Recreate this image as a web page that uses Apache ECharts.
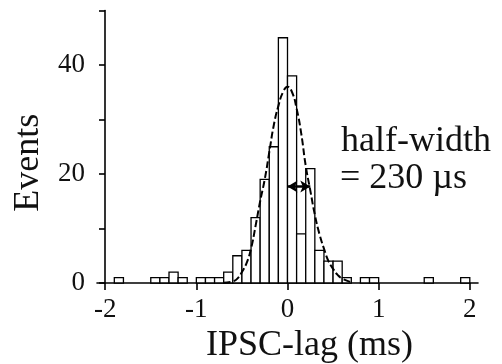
<!DOCTYPE html>
<html>
<head>
<meta charset="utf-8">
<script src="https://cdn.jsdelivr.net/npm/echarts@6/dist/echarts.min.js"></script>
<style>html,body{margin:0;padding:0;background:#fff}#c{width:502px;height:364px}</style>
</head>
<body>
<div id="c"></div>
<script>
// Histogram bins (ms): start edge, end edge, counts
const binStart = [-1.9, -1.5, -1.4, -1.3, -1.2, -1.0, -0.9, -0.8, -0.7, -0.6, -0.5, -0.4, -0.3, -0.2, -0.1, 0.0, 0.1, 0.2, 0.3, 0.4, 0.5, 0.6, 0.8, 0.9, 1.5, 1.9];
const binEnd   = [-1.8, -1.4, -1.3, -1.2, -1.1, -0.9, -0.8, -0.7, -0.6, -0.5, -0.4, -0.3, -0.2, -0.1, 0.0, 0.1, 0.2, 0.3, 0.4, 0.5, 0.6, 0.7, 0.9, 1.0, 1.6, 2.0];
const counts   = [1, 1, 1, 2, 1, 1, 1, 1, 2, 5, 6, 12, 19, 25, 45, 38, 9, 21, 6, 4, 4, 1, 1, 1, 1, 1];

// Fitted curve
const fitX = [-0.7, -0.6, -0.55, -0.5, -0.45, -0.4, -0.35, -0.3, -0.25, -0.2, -0.15, -0.1, -0.05, 0.0, 0.05, 0.1, 0.15, 0.2, 0.25, 0.3, 0.35, 0.4, 0.45, 0.5, 0.55, 0.6, 0.7];
const fitY = [0.05, 0.3, 0.8, 2.0, 3.6, 6.3, 10.5, 15, 19, 24, 29, 32.5, 35, 36, 35, 32, 27.5, 21.5, 17, 12.5, 9, 6.3, 4, 2.6, 1.5, 0.8, 0.15];

// Half-width arrow
const arrowY = 17.7;
const arrowFrom = 0.0;
const arrowTo = 0.25;

// Axis ticks / labels
const xTicks = [-2, -1, 0, 1, 2];
const yTicks = [0, 10, 20, 30, 40, 50];
const yLabels = [0, 20, 40];

const xName = 'IPSC-lag (ms)';
const yName = 'Events';
const noteLine1 = 'half-width';
const noteLine2 = '= 230 µs';

const FONT = "'Liberation Serif', 'DejaVu Serif', serif";

const histData = binStart.map((s, i) => [s, binEnd[i], counts[i]]);
const fitData = fitX.map((x, i) => [x, fitY[i]]);

const chart = echarts.init(document.getElementById('c'), null, {renderer: 'canvas'});
chart.setOption({
  animation: false,
  backgroundColor: '#fff',
  textStyle: {fontFamily: FONT},
  grid: {left: 97, right: 24, top: 10.5, bottom: 81, containLabel: false, outerBoundsMode: 'none'},
  xAxis: {
    type: 'value', min: -2.09, max: 2.09,
    name: xName, nameLocation: 'middle', nameGap: 41,
    nameTextStyle: {fontFamily: FONT, fontSize: 36, color: '#111', padding: [0, 0, 0, 44]},
    axisLine: {onZero: false, lineStyle: {color: '#000', width: 1.6}},
    axisTick: {show: true, inside: false, length: 7, lineStyle: {color: '#000', width: 1.6}, customValues: xTicks},
    axisLabel: {fontFamily: FONT, fontSize: 27, color: '#111', margin: 13, customValues: xTicks},
    splitLine: {show: false}
  },
  yAxis: {
    type: 'value', min: 0, max: 50, offset: -8,
    name: yName, nameLocation: 'middle', nameGap: 58, nameRotate: 90,
    nameTextStyle: {fontFamily: FONT, fontSize: 36, color: '#111', padding: [0, 32, 0, 0]},
    axisLine: {show: true, onZero: false, lineStyle: {color: '#000', width: 1.6}},
    axisTick: {show: true, inside: false, length: 6, lineStyle: {color: '#000', width: 1.6}, customValues: yTicks},
    axisLabel: {fontFamily: FONT, fontSize: 27, color: '#111', margin: 20, customValues: yLabels},
    splitLine: {show: false}
  },
  series: [
    {
      type: 'custom',
      data: histData,
      z: 2,
      renderItem: function (params, api) {
        const p0 = api.coord([api.value(0), api.value(2)]);
        const p1 = api.coord([api.value(1), 0]);
        return {
          type: 'rect',
          shape: {x: p0[0], y: p0[1], width: p1[0] - p0[0], height: p1[1] - p0[1]},
          style: {fill: '#fff', stroke: '#000', lineWidth: 1.3}
        };
      }
    },
    {
      type: 'line',
      data: fitData,
      smooth: true,
      showSymbol: false,
      z: 5,
      lineStyle: {color: '#000', width: 2, type: [7, 3]},
      markLine: {
        silent: true,
        symbol: ['arrow', 'arrow'],
        symbolSize: [9, 10],
        label: {show: false},
        lineStyle: {color: '#000', width: 2.5, type: 'solid'},
        data: [[{coord: [arrowFrom, arrowY]}, {coord: [arrowTo, arrowY]}]]
      }
    }
  ],
  graphic: [
    {type: 'text', left: 341, top: 124, style: {text: noteLine1, fontFamily: FONT, fontSize: 36, fill: '#111'}},
    {type: 'text', left: 340, top: 161, style: {text: noteLine2, fontFamily: FONT, fontSize: 36, fill: '#111'}}
  ]
});
</script>
</body>
</html>
